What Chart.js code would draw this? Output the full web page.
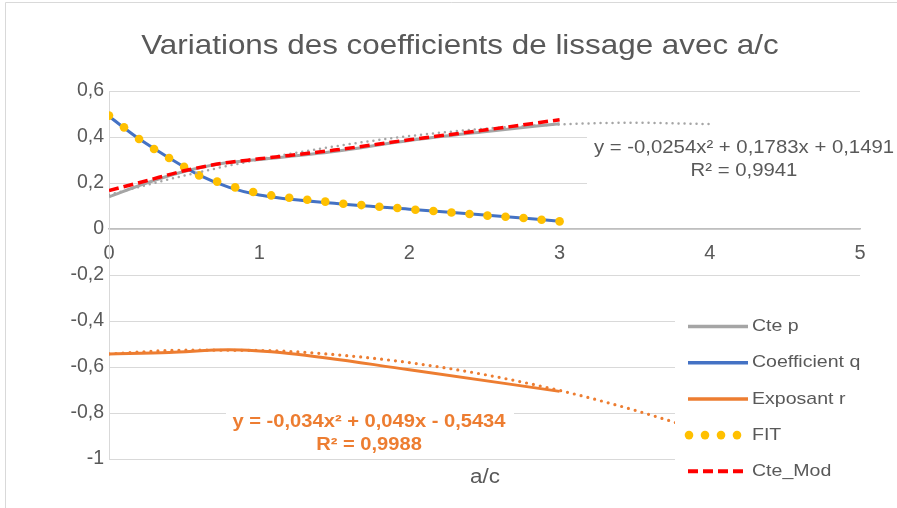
<!DOCTYPE html>
<html lang="fr">
<head>
<meta charset="utf-8">
<script src="https://cdn.jsdelivr.net/npm/chart.js@4"></script>
<style>
  body { margin: 0; background: #fff; }
  canvas { display: block; }
</style>
</head>
<body>
<canvas id="graphique" width="897" height="508"></canvas>
<script>
// === Données ===
const xCteP = [0, 0.25, 0.5, 0.75, 1, 1.5, 2, 2.5, 3];
const cteP = [0.14, 0.2, 0.25, 0.285, 0.302, 0.337, 0.385, 0.423, 0.458];

const xCoefQ = [0, 0.2, 0.4, 0.6, 0.8, 1, 1.5, 2, 2.5, 3];
const coefQ = [0.49, 0.392, 0.309, 0.234, 0.181, 0.148, 0.112, 0.086, 0.061, 0.034];

const xExpR = [0, 0.4, 0.8, 1.2, 2, 3];
const expR = [-0.543, -0.537, -0.525, -0.541, -0.612, -0.706];

const xFit = [0, 0.1, 0.2, 0.3, 0.4, 0.5, 0.6, 0.72, 0.84, 0.96, 1.08, 1.2, 1.32, 1.44,
              1.56, 1.68, 1.8, 1.92, 2.04, 2.16, 2.28, 2.4, 2.52, 2.64, 2.76, 2.88, 3];
const fit = [0.493, 0.442, 0.391, 0.348, 0.309, 0.27, 0.233, 0.206, 0.181, 0.161, 0.146, 0.136, 0.127, 0.119,
             0.11, 0.104, 0.097, 0.091, 0.084, 0.078, 0.072, 0.065, 0.058, 0.053, 0.048, 0.04, 0.033];

const xCteMod = [0, 0.25, 0.5, 0.75, 1, 1.5, 2, 2.5, 3];
const cteMod = [0.167, 0.21, 0.253, 0.285, 0.305, 0.343, 0.388, 0.43, 0.475];

// courbes de tendance (valeurs lues)
const xTendP = [0, 0.5, 1, 1.5, 2, 2.5, 3, 3.5, 4];
const tendP = [0.149, 0.232, 0.302, 0.359, 0.404, 0.436, 0.455, 0.462, 0.456];

const xTendR = [0, 0.5, 1, 1.5, 2, 2.5, 3, 3.5, 4, 4.5, 5];
const tendR = [-0.543, -0.527, -0.528, -0.546, -0.581, -0.633, -0.702, -0.788, -0.891, -1.011, -1.148];

const xTicks = [0, 1, 2, 3, 4, 5];
const yTicks = [-1, -0.8, -0.6, -0.4, -0.2, 0, 0.2, 0.4, 0.6];

const titre = 'Variations des coefficients de lissage avec a/c';
const titreAxeX = 'a/c';
const equationP = ['y = -0,0254x² + 0,1783x + 0,1491', 'R² = 0,9941'];
const equationR = ['y = -0,034x² + 0,049x - 0,5434', 'R² = 0,9988'];

const POLICE = "'Liberation Sans', Arial, sans-serif";
const GRIS_TEXTE = '#595959';
const ETIRE = 1.15;

function points(xs, ys) {
    return xs.map((x, i) => ({ x: x, y: ys[i] }));
}

function texte(ctx, str, x, y, font, couleur, align) {
    ctx.save();
    ctx.font = font;
    ctx.fillStyle = couleur;
    ctx.textAlign = align || 'center';
    ctx.textBaseline = 'middle';
    ctx.translate(x, y);
    ctx.scale(ETIRE, 1);
    ctx.fillText(str, 0, 0);
    ctx.restore();
}

const decor = {
    id: 'decor',
    beforeDraw(chart) {
        const ctx = chart.ctx;
        ctx.save();
        ctx.fillStyle = '#fff';
        ctx.fillRect(0, 0, chart.width, chart.height);
        ctx.restore();
    },
    afterDraw(chart) {
        const ctx = chart.ctx;

        // cadre extérieur
        ctx.save();
        ctx.strokeStyle = '#D9D9D9';
        ctx.lineWidth = 1;
        ctx.beginPath();
        ctx.moveTo(5.5, chart.height);
        ctx.lineTo(5.5, 2.5);
        ctx.lineTo(chart.width, 2.5);
        ctx.stroke();
        ctx.restore();

        texte(ctx, titre, 460, 46, '27.3px ' + POLICE, GRIS_TEXTE);
        texte(ctx, titreAxeX, 485, 478, '19.5px ' + POLICE, GRIS_TEXTE);

        // étiquette de tendance Cte p
        ctx.fillStyle = '#fff';
        ctx.fillRect(587, 128, 310, 63);
        texte(ctx, equationP[0], 744, 148, '17.7px ' + POLICE, GRIS_TEXTE);
        texte(ctx, equationP[1], 744, 171, '17.7px ' + POLICE, GRIS_TEXTE);

        // étiquette de tendance Exposant r
        ctx.fillStyle = '#fff';
        ctx.fillRect(226, 405, 288, 50);
        texte(ctx, equationR[0], 369, 422, 'bold 17.5px ' + POLICE, '#ED7D31');
        texte(ctx, equationR[1], 369, 445, 'bold 17.5px ' + POLICE, '#ED7D31');

        // légende
        ctx.fillStyle = '#fff';
        ctx.fillRect(675, 303, 215, 195);
        const entrees = chart.data.datasets.filter(d => !d.tendance);
        entrees.forEach((d, i) => {
            const y = 326.5 + i * 36.2;
            ctx.save();
            if (d.showLine === false) {
                ctx.fillStyle = d.backgroundColor;
                [689, 705, 721, 737].forEach(px => {
                    ctx.beginPath();
                    ctx.arc(px, y, 4.3, 0, Math.PI * 2);
                    ctx.fill();
                });
            } else {
                ctx.strokeStyle = d.borderColor;
                ctx.lineWidth = d.borderWidth + 0.5;
                ctx.setLineDash(d.borderDash || []);
                ctx.beginPath();
                ctx.moveTo(688, y);
                ctx.lineTo(748, y);
                ctx.stroke();
            }
            ctx.restore();
            texte(ctx, d.label, 752, y, '17px ' + POLICE, GRIS_TEXTE, 'left');
        });
    }
};

new Chart(document.getElementById('graphique'), {
    type: 'line',
    data: {
        datasets: [
            { label: 'Cte p', data: points(xCteP, cteP), borderColor: '#A5A5A5', borderWidth: 3, pointRadius: 0, cubicInterpolationMode: 'monotone', order: 5 },
            { label: 'Coefficient q', data: points(xCoefQ, coefQ), borderColor: '#4472C4', borderWidth: 3, pointRadius: 0, cubicInterpolationMode: 'monotone', order: 4 },
            { label: 'Exposant r', data: points(xExpR, expR), borderColor: '#ED7D31', borderWidth: 3, pointRadius: 0, cubicInterpolationMode: 'monotone', order: 3 },
            { label: 'FIT', data: points(xFit, fit), showLine: false, backgroundColor: '#FFC000', borderColor: '#FFC000', borderWidth: 0, pointRadius: 4.3, order: 2 },
            { label: 'Cte_Mod', data: points(xCteMod, cteMod), borderColor: '#FF0000', borderWidth: 3.5, borderDash: [10, 5], pointRadius: 0, cubicInterpolationMode: 'monotone', order: 0 },
            { label: 'tendance p', tendance: true, data: points(xTendP, tendP), borderColor: '#A5A5A5', borderWidth: 2.5, borderDash: [0, 6], borderCapStyle: 'round', pointRadius: 0, cubicInterpolationMode: 'monotone', order: 1 },
            { label: 'tendance r', tendance: true, data: points(xTendR, tendR), borderColor: '#ED7D31', borderWidth: 3.2, borderDash: [0, 7], borderCapStyle: 'round', pointRadius: 0, cubicInterpolationMode: 'monotone', order: 1 }
        ]
    },
    options: {
        responsive: false,
        animation: false,
        devicePixelRatio: 1,
        layout: { padding: { left: 0, top: 91, right: 37, bottom: 49 } },
        plugins: { legend: { display: false }, title: { display: false }, tooltip: { enabled: false } },
        scales: {
            x: {
                type: 'linear',
                min: 0,
                max: 5,
                position: { y: 0 },
                afterBuildTicks: s => { s.ticks = xTicks.map(v => ({ value: v })); },
                ticks: { color: GRIS_TEXTE, font: { family: POLICE, size: 20 }, padding: 12 },
                grid: { display: false, drawTicks: false },
                border: { display: true, color: '#BFBFBF', width: 1.5 }
            },
            y: {
                min: -1,
                max: 0.6,
                afterBuildTicks: s => { s.ticks = yTicks.map(v => ({ value: v })); },
                afterFit: s => { s.width = 109; },
                ticks: {
                    color: GRIS_TEXTE,
                    font: { family: POLICE, size: 19.5 },
                    padding: 5,
                    callback: v => String(Math.round(v * 10) / 10).replace('.', ',')
                },
                grid: { color: '#D9D9D9', drawTicks: false },
                border: { display: true, color: '#D9D9D9' }
            }
        }
    },
    plugins: [decor]
});
</script>
</body>
</html>
